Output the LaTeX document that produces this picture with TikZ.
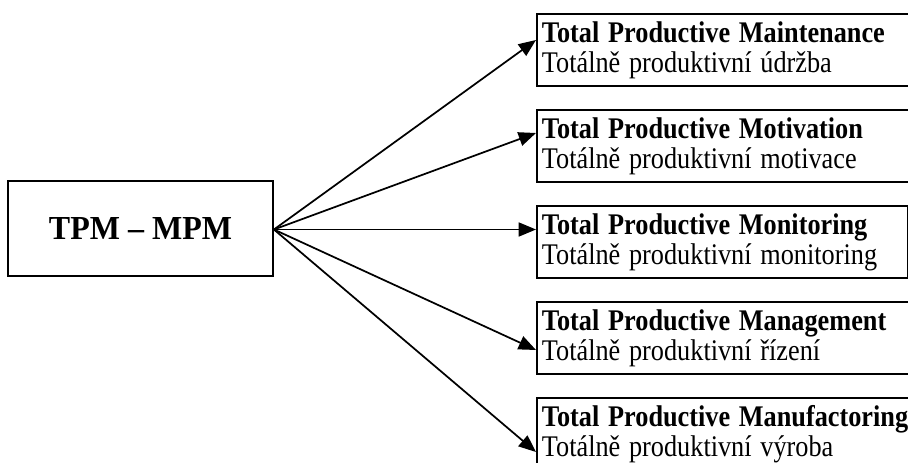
\documentclass[tikz,border=0pt]{standalone}
\usepackage{fontspec}
\setmainfont{Liberation Serif}
\usetikzlibrary{arrows.meta,calc}
\newcommand\boxtext[2]{\scalebox{1}[1.14]{\textbf{#1}}\\\scalebox{1}[1.14]{#2}}
\begin{document}
\begin{tikzpicture}[x=0.75pt,y=-0.75pt,
  boxst/.style={draw, line width=1.4pt, anchor=north west, minimum height=54pt,
    inner xsep=3.75pt, inner ysep=0pt, align=left, text width=292pt,
    font=\fontsize{19.7}{22.4}\selectfont},
  mainst/.style={draw, line width=1.4pt, minimum width=198.75pt, minimum height=71.25pt,
    inner sep=0pt, font=\bfseries\fontsize{24}{28}\selectfont},
  arr/.style={line width=1.3pt, -{Triangle[length=13pt,width=10.5pt]}}]
\useasboundingbox (0,0) rectangle (908,463);
\clip (0,0) rectangle (908,463);
\node[mainst] (m) at (140.5,228.5) {\scalebox{1}[1.05]{TPM – MPM}};
\node[boxst] (b1) at (536,13) {\boxtext{Total Productive Maintenance}{Totálně produktivní údržba}};
\node[boxst] (b2) at (536,109) {\boxtext{Total Productive Motivation}{Totálně produktivní motivace}};
\node[boxst, text width=270.75pt] (b3) at (536,205) {\boxtext{Total Productive Monitoring}{Totálně produktivní monitoring}};
\node[boxst] (b4) at (536,301) {\boxtext{Total Productive Management}{Totálně produktivní řízení}};
\node[boxst] (b5) at (536,397) {\boxtext{Total Productive Manufactoring}{Totálně produktivní výroba}};
\coordinate (o) at ($(m.east)+(0,1)$);
\draw[arr] (o) -- ($(b1.north west)+(0,27)$);
\draw[arr] (o) -- ($(b2.north west)+(0,24)$);
\draw[arr] (o) -- ($(b3.north west)+(0,24.5)$);
\draw[arr] (o) -- ($(b4.north west)+(0,49)$);
\draw[arr] (o) -- ($(b5.north west)+(0,55)$);
\end{tikzpicture}
\end{document}
